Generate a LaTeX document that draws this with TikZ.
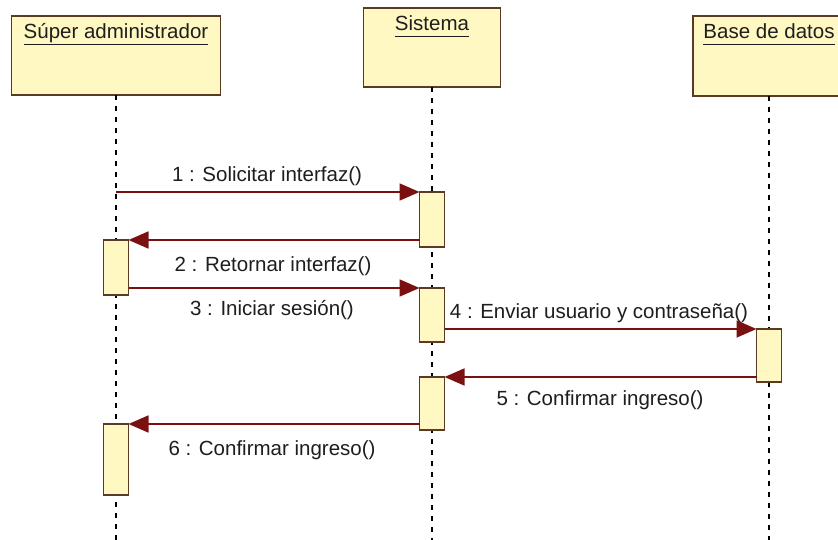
\documentclass[tikz,border=0pt]{standalone}
\usepackage{fontspec}
\setmainfont{Liberation Sans}
\usepackage{xcolor}
\usetikzlibrary{arrows.meta,positioning}
\definecolor{lifeyellow}{HTML}{FFF8C2}
\definecolor{boxbrown}{HTML}{5A3A22}
\definecolor{msgred}{HTML}{7A1010}
\definecolor{msgtext}{HTML}{1E1E1E}
\newcommand{\uname}[1]{\underline{#1\vphantom{p}}}

\begin{document}
\begin{tikzpicture}[x=1pt, y=-1pt, font=\fontsize{20.5}{24}\selectfont, text=msgtext,
  actor/.style={draw=boxbrown, fill=lifeyellow, line width=1.5pt, outer sep=0pt, inner sep=0pt, anchor=north},
  act/.style={draw=boxbrown, fill=lifeyellow, line width=1.5pt, outer sep=0pt, inner sep=0pt, minimum width=25pt, anchor=north},
  lifeline/.style={draw=black, line width=1.8pt, dash pattern=on 5pt off 6pt},
  msg/.style={draw=msgred, line width=1.6pt, -{Triangle[length=20pt, width=17pt]}}]
  \useasboundingbox (0,0) rectangle (838,540);
  \clip (0,0) rectangle (838,540);
  \fill[white] (0,0) rectangle (838,540);
  % objects
  \node[actor, minimum width=209pt, minimum height=79pt] (admin) at (116,16) {};
  \node[actor, minimum width=137pt, minimum height=79pt] (sistema) at (432,8) {};
  \node[actor, minimum width=152pt, minimum height=80pt] (bd) at (769,16) {};
  \node[anchor=base] (adminname) at (116,39) {\uname{Súper administrador}};
  \node[anchor=base] (sistemaname) at (432,31) {\uname{Sistema}};
  \node[anchor=base] (bdname) at (769,39) {\uname{Base de datos}};
  % lifelines
  \coordinate (adminend) at (116,545);
  \coordinate (sistemaend) at (432,545);
  \coordinate (bdend) at (769,545);
  \draw[lifeline] (admin.south) -- (adminend);
  \draw[lifeline] (sistema.south) -- (sistemaend);
  \draw[lifeline] (bd.south) -- (bdend);
  % activations
  \node[act, minimum height=55pt] (s1) at (432,192) {};
  \node[act, minimum height=55pt] (a1) at (116,240) {};
  \node[act, minimum height=54pt] (s2) at (432,288) {};
  \node[act, minimum height=53pt] (b1) at (769,329) {};
  \node[act, minimum height=53pt] (s3) at (432,377) {};
  \node[act, minimum height=71pt] (a2) at (116,424) {};
  % messages
  \draw[msg] (admin.south |- s1.north) -- (s1.north west);
  \draw[msg] (s1.west |- a1.north) -- (a1.north east);
  \draw[msg] (a1.east |- s2.north) -- (s2.north west);
  \draw[msg] (s2.east |- b1.north) -- (b1.north west);
  \draw[msg] (b1.west |- s3.north) -- (s3.north east);
  \draw[msg] (s3.west |- a2.north) -- (a2.north east);
  \node[anchor=base] (m1) at (267,182) {1 : Solicitar interfaz()};
  \node[anchor=base] (m2) at (273,271) {2 : Retornar interfaz()};
  \node[anchor=base] (m3) at (272,315) {3 : Iniciar sesión()};
  \node[anchor=base] (m4) at (599,318) {4 : Enviar usuario y contraseña()};
  \node[anchor=base] (m5) at (600,405) {5 : Confirmar ingreso()};
  \node[anchor=base] (m6) at (272,455) {6 : Confirmar ingreso()};
\end{tikzpicture}
\end{document}
